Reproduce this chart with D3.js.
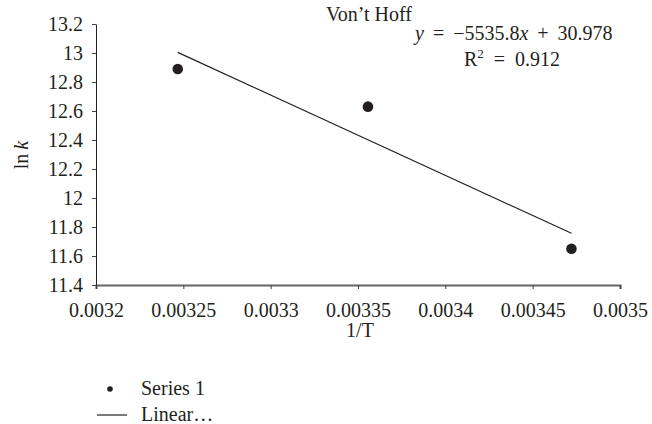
<!DOCTYPE html>
<html>
<head>
<meta charset="utf-8">
<script src="https://cdn.jsdelivr.net/npm/d3@7"></script>
<style>
  body { margin: 0; background: #fff; }
  text { font-family: "Liberation Serif", "DejaVu Serif", serif; fill: #231f20; }
</style>
</head>
<body>
<div id="chart"></div>
<script>
// measured points (1/T, ln k)
const invT = [0.0032468, 0.0033557, 0.0034722];
const lnK = [12.89, 12.63, 11.65];
// linear fit from the chart
const fitSlope = -5535.8;
const fitIntercept = 30.978;
const xTicks = [0.0032, 0.00325, 0.0033, 0.00335, 0.0034, 0.00345, 0.0035];
const yTicks = [11.4, 11.6, 11.8, 12, 12.2, 12.4, 12.6, 12.8, 13, 13.2];

var width = 652, height = 424;
var margin = { top: 24, right: 32, bottom: 139, left: 96 };
var w = width - margin.left - margin.right;
var h = height - margin.top - margin.bottom;
var fs = "20px";

var svg = d3.select("#chart").append("svg")
    .attr("width", width)
    .attr("height", height);

var g = svg.append("g")
    .attr("transform", `translate(${margin.left}, ${margin.top})`);

var x = d3.scaleLinear().domain([0.0032, 0.0035]).range([0, w]);
var y = d3.scaleLinear().domain([11.4, 13.2]).range([h, 0]);

// x axis (grey, a bit heavier)
var xAxis = g.append("g")
    .attr("transform", `translate(0, ${h})`)
    .call(d3.axisBottom(x).tickValues(xTicks).tickSize(4).tickPadding(14).tickFormat(d => String(+d.toPrecision(6))));
xAxis.select(".domain").attr("stroke", "#666").attr("stroke-width", 2.2);
xAxis.selectAll(".tick line").attr("stroke", "#444");
xAxis.selectAll("text").style("font-size", fs).attr("fill", "#231f20");

// y axis
var yAxis = g.append("g")
    .call(d3.axisLeft(y).tickValues(yTicks).tickSize(4).tickPadding(9).tickSizeOuter(0).tickFormat(d => String(d)));
yAxis.select(".domain").attr("stroke", "#222").attr("stroke-width", 1);
yAxis.selectAll(".tick line").attr("stroke", "#444");
yAxis.selectAll("text").style("font-size", fs).attr("fill", "#231f20");

// trend line across the data range
var fitX = d3.extent(invT);
var fitData = fitX.map(v => ({ x: v, y: fitSlope * v + fitIntercept }));
g.append("path")
    .datum(fitData)
    .attr("fill", "none")
    .attr("stroke", "#231f20")
    .attr("stroke-width", 1.2)
    .attr("d", d3.line().x(d => x(d.x)).y(d => y(d.y)));

// points
g.selectAll(".pt")
    .data(invT.map((v, i) => ({ x: v, y: lnK[i] })))
    .enter()
    .append("circle")
    .attr("class", "pt")
    .attr("cx", d => x(d.x))
    .attr("cy", d => y(d.y))
    .attr("r", 5.3)
    .attr("fill", "#231f20");

// axis titles
svg.append("text")
    .attr("x", 360).attr("y", 337)
    .attr("text-anchor", "middle")
    .style("font-size", fs)
    .text("1/T");

svg.append("text")
    .attr("transform", "translate(28, 155) rotate(-90)")
    .attr("text-anchor", "middle")
    .style("font-size", fs)
    .html('ln&#8201;<tspan font-style="italic">k</tspan>');

// title and equation
svg.append("text")
    .attr("x", 412).attr("y", 21)
    .attr("text-anchor", "end")
    .style("font-size", fs)
    .text("Von\u2019t Hoff");

svg.append("text")
    .attr("x", 415).attr("y", 40)
    .style("font-size", fs)
    .style("word-spacing", "4px")
    .html('<tspan font-style="italic">y</tspan> = \u22125535.8<tspan font-style="italic">x</tspan> + 30.978');

svg.append("text")
    .attr("x", 464).attr("y", 66)
    .style("font-size", fs)
    .style("word-spacing", "5px")
    .html('R<tspan dy="-8" font-size="13px">2</tspan><tspan dy="8"> = 0.912</tspan>');

// legend
svg.append("circle").attr("cx", 110).attr("cy", 389).attr("r", 2.8).attr("fill", "#231f20");
svg.append("text").attr("x", 141).attr("y", 395).style("font-size", fs).text("Series 1");
svg.append("line").attr("x1", 97).attr("x2", 127).attr("y1", 415).attr("y2", 415)
    .attr("stroke", "#231f20").attr("stroke-width", 1.2);
svg.append("text").attr("x", 141).attr("y", 421).style("font-size", fs).text("Linear\u2026");
</script>
</body>
</html>
